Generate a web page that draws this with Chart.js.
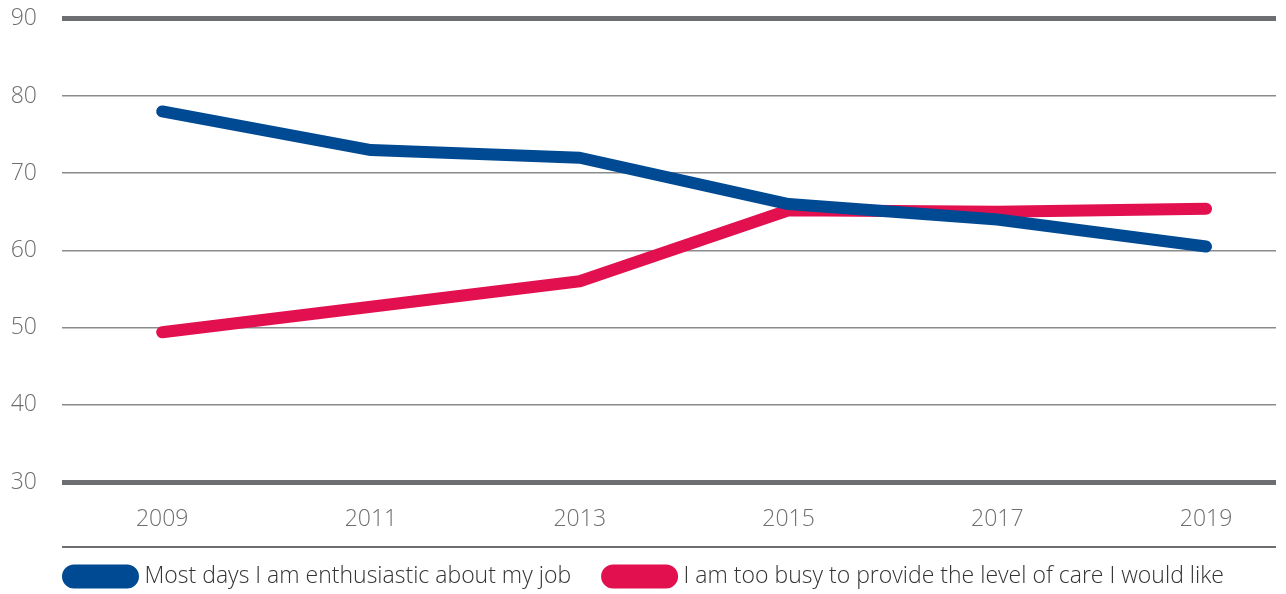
<!DOCTYPE html>
<html>
<head>
<meta charset="utf-8">
<script src="https://cdn.jsdelivr.net/npm/chart.js@4.4.0/dist/chart.umd.min.js"></script>
<style>
  html, body { margin: 0; padding: 0; background: #fff; overflow: hidden; }
  #wrap { width: 1286px; height: 637px; margin-top: -20px; }
</style>
</head>
<body>
<div id="wrap"><canvas id="myChart"></canvas></div>
<script>
var years = [2009, 2011, 2013, 2015, 2017, 2019];
var enthusiastic = [78, 73, 72, 66, 64, 60.5];
var tooBusy = [49.4, 52.7, 56, 65.2, 65, 65.4];
var yTicks = [30, 40, 50, 60, 70, 80, 90];

var blue = "#004a93";
var red = "#e2104f";
var grey = "#6d6e71";
var fontFamily = "'Open Sans', sans-serif";

function pts(vals) {
    return years.map(function (y, i) { return { x: y, y: vals[i] }; });
}

// rule under the year labels, above the legend; also places the legend row
var underAxis = {
    id: 'underAxis',
    beforeDraw: function (chart) {
        chart.legend.left = 32;
        chart.legend.top = chart.scales.x.bottom - 19;
    },
    afterDraw: function (chart) {
        var c = chart.ctx, x = chart.scales.x;
        c.save();
        c.strokeStyle = grey;
        c.lineWidth = 2;
        c.beginPath();
        c.moveTo(chart.chartArea.left, x.bottom - 1);
        c.lineTo(chart.chartArea.right, x.bottom - 1);
        c.stroke();
        c.restore();
    }
};

var ctx = document.getElementById('myChart');
var chart = new Chart(ctx, {
    type: 'line',
    data: {
        datasets: [{
            label: 'Most days I am enthusiastic about my job',
            data: pts(enthusiastic),
            borderColor: blue,
            backgroundColor: blue,
            borderWidth: 12,
            borderCapStyle: 'round',
            borderJoinStyle: 'round',
            pointRadius: 0,
            tension: 0
        }, {
            label: 'I am too busy to provide the level of care I would like',
            data: pts(tooBusy),
            borderColor: red,
            backgroundColor: red,
            borderWidth: 12,
            borderCapStyle: 'round',
            borderJoinStyle: 'round',
            pointRadius: 0,
            tension: 0
        }]
    },
    plugins: [underAxis],
    options: {
        responsive: true,
        maintainAspectRatio: false,
        animation: false,
        layout: { padding: { top: -12, right: 10, left: 0, bottom: 0 } },
        scales: {
            x: {
                type: 'linear',
                min: 2008.04,
                max: 2019.67,
                afterBuildTicks: function (s) {
                    s.ticks = years.map(function (v) { return { value: v }; });
                },
                afterFit: function (s) { s.height = 66; },
                grid: { display: false, drawTicks: false },
                border: { display: false },
                ticks: {
                    color: grey,
                    padding: 24,
                    font: { family: fontFamily, size: 23, weight: 300 },
                    callback: function (v) { return String(v); }
                }
            },
            y: {
                min: 30,
                max: 90,
                afterBuildTicks: function (s) {
                    s.ticks = yTicks.map(function (v) { return { value: v }; });
                },
                afterFit: function (s) { s.width = 62; },
                border: { display: false },
                grid: {
                    drawTicks: false,
                    color: function (c) {
                        return (c.tick.value === 90 || c.tick.value === 30) ? grey : "#8a8b8d";
                    },
                    lineWidth: function (c) {
                        return (c.tick.value === 90 || c.tick.value === 30) ? 5 : 1.5;
                    }
                },
                ticks: {
                    color: grey,
                    padding: 25,
                    font: { family: fontFamily, size: 23, weight: 300 }
                }
            }
        },
        plugins: {
            title: { display: false },
            tooltip: { enabled: false },
            legend: {
                position: 'bottom',
                align: 'start',
                labels: {
                    color: '#333',
                    font: { family: fontFamily, size: 23, weight: 300 },
                    boxWidth: 65,
                    boxHeight: 12,
                    useBorderRadius: true,
                    borderRadius: 6,
                    padding: 36
                }
            }
        }
    }
});
</script>
</body>
</html>
